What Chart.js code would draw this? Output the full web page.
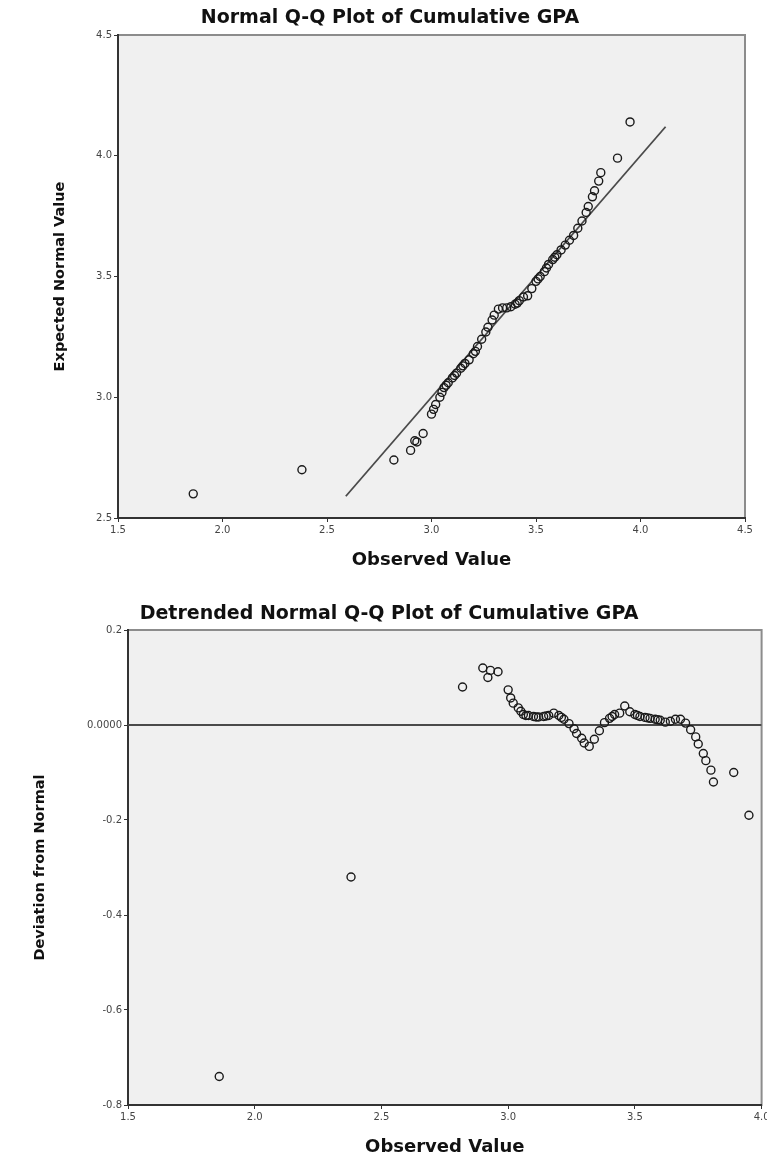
<!DOCTYPE html>
<html>
<head>
<meta charset="utf-8">
<script src="https://cdn.jsdelivr.net/npm/chart.js@4.4.1/dist/chart.umd.min.js"></script>
<style>
  body { margin: 0; background: #fff; }
  .box { position: absolute; left: 0; width: 767px; }
  #qqBox { top: 0; height: 585px; }
  #dtBox { top: 590px; height: 573px; }
</style>
</head>
<body>
<div class="box" id="qqBox"><canvas id="qqChart"></canvas></div>
<div class="box" id="dtBox"><canvas id="dtChart"></canvas></div>
<script>
// observed cumulative GPA (x of both plots)
const observed = [1.86, 2.38, 2.82, 2.90, 2.92, 2.93, 2.96, 3.00, 3.01, 3.02, 3.04, 3.05, 3.06, 3.07, 3.08, 3.10,
  3.11, 3.12, 3.14, 3.15, 3.16, 3.18, 3.20, 3.21, 3.22, 3.24, 3.26, 3.27, 3.29, 3.30, 3.32, 3.34, 3.36, 3.38,
  3.40, 3.41, 3.42, 3.44, 3.46, 3.48, 3.50, 3.51, 3.52, 3.54, 3.55, 3.56, 3.58, 3.59, 3.60, 3.62, 3.64, 3.66,
  3.68, 3.70, 3.72, 3.74, 3.75, 3.77, 3.78, 3.80, 3.81, 3.89, 3.95]
// expected normal value (y of Q-Q plot)
const expected = [2.60, 2.70, 2.74, 2.78, 2.82, 2.815, 2.85, 2.93, 2.95, 2.97, 3.00, 3.02, 3.04, 3.05, 3.06, 3.08,
  3.09, 3.10, 3.12, 3.13, 3.14, 3.155, 3.18, 3.19, 3.21, 3.24, 3.27, 3.29, 3.32, 3.34, 3.365, 3.37, 3.37, 3.375,
  3.385, 3.39, 3.40, 3.415, 3.42, 3.45, 3.48, 3.49, 3.50, 3.52, 3.535, 3.55, 3.57, 3.58, 3.59, 3.61, 3.63, 3.65,
  3.67, 3.70, 3.73, 3.765, 3.79, 3.83, 3.855, 3.895, 3.93, 3.99, 4.14]
// deviation from normal (y of detrended plot)
const deviation = [-0.74, -0.32, 0.08, 0.12, 0.10, 0.115, 0.112, 0.074, 0.057, 0.046, 0.036, 0.029, 0.022, 0.020,
  0.020, 0.018, 0.017, 0.017, 0.018, 0.019, 0.020, 0.025, 0.020, 0.016, 0.012, 0.003, -0.008, -0.018, -0.028,
  -0.038, -0.045, -0.030, -0.012, 0.005, 0.014, 0.018, 0.022, 0.025, 0.040, 0.028, 0.022, 0.020, 0.018, 0.016,
  0.015, 0.014, 0.012, 0.011, 0.010, 0.006, 0.008, 0.012, 0.012, 0.004, -0.010, -0.025, -0.040, -0.060, -0.075,
  -0.095, -0.120, -0.100, -0.190]

const refLineX = [2.59, 4.12]
const zeroLineX = [1.5, 4.0]

const qqXTicks = [1.5, 2.0, 2.5, 3.0, 3.5, 4.0, 4.5]
const qqXLabels = ['1.5', '2.0', '2.5', '3.0', '3.5', '4.0', '4.5']
const qqYTicks = [2.5, 3.0, 3.5, 4.0, 4.5]
const qqYLabels = ['2.5', '3.0', '3.5', '4.0', '4.5']
const dtXTicks = [1.5, 2.0, 2.5, 3.0, 3.5, 4.0]
const dtXLabels = ['1.5', '2.0', '2.5', '3.0', '3.5', '4.0']
const dtYTicks = [-0.8, -0.6, -0.4, -0.2, 0, 0.2]
const dtYLabels = ['-0.8', '-0.6', '-0.4', '-0.2', '0.0000', '0.2']

Chart.defaults.font.family = 'DejaVu Sans'
Chart.defaults.color = '#222'

const plotBg = {
  id: 'plotBg',
  beforeDraw(chart) {
    const { ctx, chartArea: a } = chart
    ctx.save()
    ctx.fillStyle = '#f0f0f0'
    ctx.fillRect(a.left, a.top, a.right - a.left, a.bottom - a.top)
    ctx.strokeStyle = '#8c8c8c'
    ctx.lineWidth = 2
    ctx.strokeRect(a.left, a.top, a.right - a.left, a.bottom - a.top)
    ctx.restore()
  }
}

const makeScale = (ticks, labels, min, max, title, opts) => ({
  type: 'linear',
  min: min,
  max: max,
  afterBuildTicks: s => { s.ticks = ticks.map(v => ({ value: v })) },
  ticks: {
    font: { size: 10 },
    color: '#444',
    padding: 2,
    callback: (v, i) => labels[i]
  },
  grid: { drawOnChartArea: false, drawTicks: true, tickLength: 4, color: '#333' },
  border: { display: true, color: '#333', width: 2 },
  title: {
    display: true,
    text: title,
    color: '#111',
    font: { size: opts.titleSize, weight: 'bold' },
    padding: opts.titlePad
  },
  afterFit: s => {
    if (s.isHorizontal()) {
      s.height = opts.size
      s.paddingLeft = 0
      s.paddingRight = 0
    } else {
      s.width = opts.size
      s.paddingTop = 0
      s.paddingBottom = 0
    }
  }
})

const pointSet = (xs, ys) => ({
  type: 'scatter',
  data: xs.map((x, i) => ({ x: x, y: ys[i] })),
  pointStyle: 'circle',
  pointRadius: 4,
  pointBorderWidth: 1.4,
  pointBorderColor: '#1a1a1a',
  pointBackgroundColor: 'rgba(0,0,0,0)',
  showLine: false,
  order: 1
})

const lineSet = (xs, ys) => ({
  type: 'line',
  data: xs.map((x, i) => ({ x: x, y: ys[i] })),
  borderColor: '#4a4a4a',
  borderWidth: 1.8,
  pointRadius: 0,
  order: 2
})

new Chart(document.getElementById('qqChart'), {
  type: 'scatter',
  data: {
    datasets: [
      pointSet(observed, expected),
      lineSet(refLineX, refLineX)
    ]
  },
  options: {
    responsive: true,
    maintainAspectRatio: false,
    animation: false,
    layout: { padding: { left: 35, right: 22, top: 0, bottom: 0 } },
    plugins: {
      legend: { display: false },
      tooltip: { enabled: false },
      title: {
        display: true,
        text: 'Normal Q-Q Plot of Cumulative GPA',
        color: '#111',
        font: { size: 19, weight: 'bold' },
        padding: { top: 6.6, bottom: 5.6 }
      }
    },
    scales: {
      x: makeScale(qqXTicks, qqXLabels, 1.5, 4.5, 'Observed Value',
        { size: 67, titleSize: 18, titlePad: { top: 4, bottom: 14.2 } }),
      y: makeScale(qqYTicks, qqYLabels, 2.5, 4.5, 'Expected Normal Value',
        { size: 83, titleSize: 14.5, titlePad: { top: 16.3, bottom: 4 } })
    }
  },
  plugins: [plotBg]
})

new Chart(document.getElementById('dtChart'), {
  type: 'scatter',
  data: {
    datasets: [
      pointSet(observed, deviation),
      lineSet(zeroLineX, [0, 0])
    ]
  },
  options: {
    responsive: true,
    maintainAspectRatio: false,
    animation: false,
    layout: { padding: { left: 16, right: 5, top: 0, bottom: 0 } },
    plugins: {
      legend: { display: false },
      tooltip: { enabled: false },
      title: {
        display: true,
        text: 'Detrended Normal Q-Q Plot of Cumulative GPA',
        color: '#111',
        font: { size: 19, weight: 'bold' },
        padding: { top: 12.6, bottom: 4.6 }
      }
    },
    scales: {
      x: makeScale(dtXTicks, dtXLabels, 1.5, 4.0, 'Observed Value',
        { size: 58, titleSize: 18, titlePad: { top: 4, bottom: 5.2 } }),
      y: makeScale(dtYTicks, dtYLabels, -0.8, 0.2, 'Deviation from Normal',
        { size: 112, titleSize: 14.5, titlePad: { top: 15.3, bottom: 4 } })
    }
  },
  plugins: [plotBg]
})
</script>
</body>
</html>
